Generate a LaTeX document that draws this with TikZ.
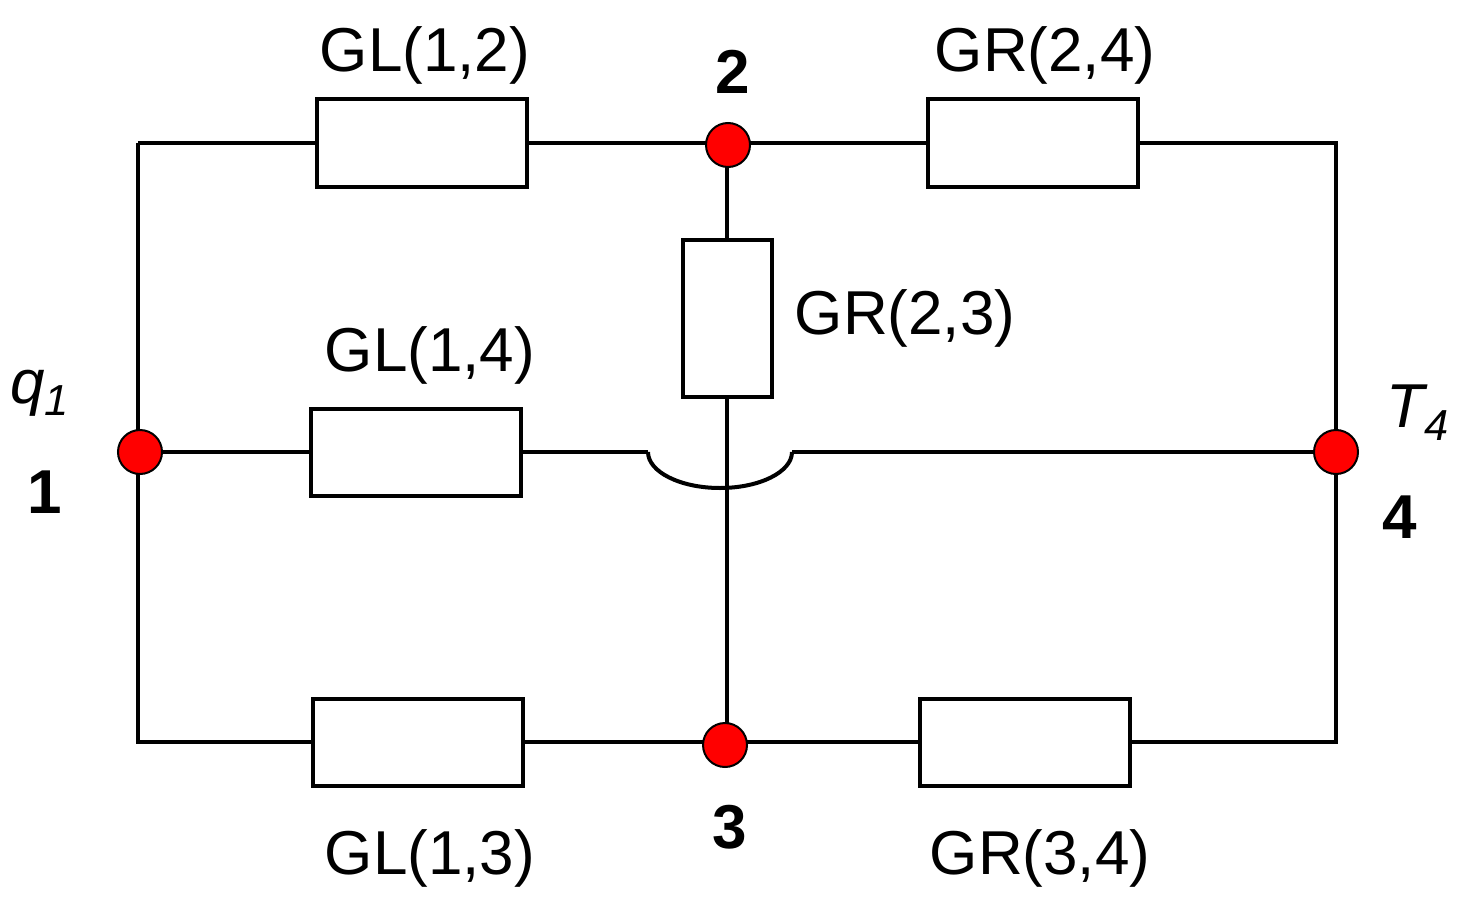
\documentclass[tikz,border=0pt]{standalone}
\usepackage{fontspec}
\setmainfont{Liberation Sans}
\begin{document}
\begin{tikzpicture}[x=0.5pt,y=-0.5pt,line width=2pt,
  res/.style={draw,fill=white,rectangle,inner sep=0pt,minimum width=105pt,minimum height=43.5pt},
  vres/.style={res,minimum width=44.5pt,minimum height=78.5pt},
  dot/.style={circle,fill=red,draw=black,line width=1pt,inner sep=0pt,minimum size=22pt},
  lab/.style={font=\fontsize{31}{36}\selectfont},
  num/.style={font=\fontsize{31}{36}\selectfont\bfseries}]
\useasboundingbox (0,0) rectangle (1461,920);
% corners
\coordinate (tl) at (138,143);
\coordinate (tr) at (1336,143);
\coordinate (bl) at (138,742);
\coordinate (br) at (1336,742);
\coordinate (j1) at (648,452);
\coordinate (j2) at (792,452);
% resistors
\node[res] (g12) at (422,143) {};
\node[res] (g24) at (1033,143) {};
\node[vres] (g23) at (727,318) {};
\node[res] (g14) at (416,452) {};
\node[res] (g13) at (418,742) {};
\node[res] (g34) at (1025,742) {};
% wires
\draw (tl) -- (g12.west);
\draw (g12.east) -- (g24.west);
\draw (g24.east) -- (tr) -- (br) -- (g34.east);
\draw (g34.west) -- (g13.east);
\draw (g13.west) -- (bl) -- (tl);
\draw (727,143) -- (g23.north);
\draw (g23.south) -- (727,742);
\draw (138,452) -- (g14.west);
\draw (g14.east) -- (j1);
\draw (j1) arc[start angle=180,end angle=360,x radius=72,y radius=-36] -- (j2);
\draw (j2) -- (1336,452);
% junctions
\node[dot] (n1) at (140,452) {};
\node[dot] (n2) at (728,145) {};
\node[dot] (n3) at (725,745) {};
\node[dot] (n4) at (1336,452) {};
% labels
\node[lab] at (425,55) {GL(1,2)};
\node[lab] at (1045,55) {GR(2,4)};
\node[lab] at (905,318) {GR(2,3)};
\node[lab] at (430,355) {GL(1,4)};
\node[lab] at (430,858) {GL(1,3)};
\node[lab] at (1040,858) {GR(3,4)};
\node[num] at (733,72) {2};
\node[num] at (45,492) {1};
\node[num] at (730,827) {3};
\node[num] at (1400,517) {4};
\node[lab] at (40,393) {\itshape q\textsubscript{1}};
\node[lab] at (1418,413) {\itshape T\textsubscript{4}};
\end{tikzpicture}
\end{document}
